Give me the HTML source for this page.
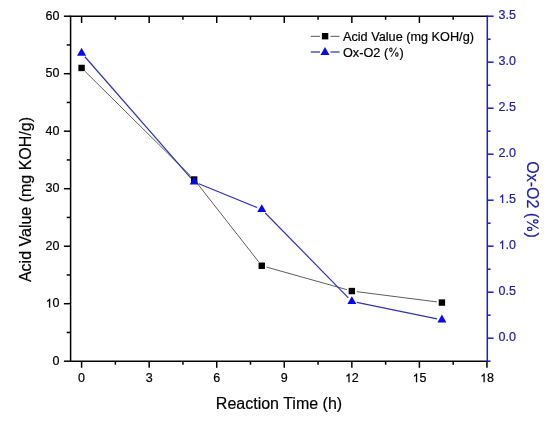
<!DOCTYPE html>
<html><head><meta charset="utf-8"><style>
html,body{margin:0;padding:0;background:#fff;}
body{width:550px;height:421px;overflow:hidden;}
svg{display:block;font-family:"Liberation Sans", sans-serif;will-change:transform;}
text{fill:#000;stroke:#000;stroke-width:0.2px;}
text.b{fill:#2020a8;stroke:#2020a8;}
</style></head><body>
<svg width="550" height="421" viewBox="0 0 550 421">
<rect width="550" height="421" fill="#fff"/>
<line x1="70.6" y1="16.2" x2="70.6" y2="361.2" stroke="#000" stroke-width="1.5"/>
<line x1="69.85" y1="16.2" x2="487.3" y2="16.2" stroke="#000" stroke-width="1.5"/>
<line x1="69.85" y1="361.2" x2="488.05" y2="361.2" stroke="#000" stroke-width="1.5"/>
<line x1="63.89999999999999" y1="361.20" x2="70.6" y2="361.20" stroke="#000" stroke-width="1.5"/>
<text x="52.45" y="364.90" font-size="12.5">0</text>
<line x1="66.69999999999999" y1="332.45" x2="70.6" y2="332.45" stroke="#000" stroke-width="1.5"/>
<line x1="63.89999999999999" y1="303.70" x2="70.6" y2="303.70" stroke="#000" stroke-width="1.5"/>
<text x="45.50" y="307.40" font-size="12.5"> 0</text>
<path d="M763 0L583 0L583 1100Q440 985 255 915L255 1085Q500 1185 630 1409L763 1409Z" transform="translate(45.50,307.40) scale(0.00610,-0.00610)" fill="#000" stroke="#000" stroke-width="32.8"/>
<line x1="66.69999999999999" y1="274.95" x2="70.6" y2="274.95" stroke="#000" stroke-width="1.5"/>
<line x1="63.89999999999999" y1="246.20" x2="70.6" y2="246.20" stroke="#000" stroke-width="1.5"/>
<text x="45.50" y="249.90" font-size="12.5">20</text>
<line x1="66.69999999999999" y1="217.45" x2="70.6" y2="217.45" stroke="#000" stroke-width="1.5"/>
<line x1="63.89999999999999" y1="188.70" x2="70.6" y2="188.70" stroke="#000" stroke-width="1.5"/>
<text x="45.50" y="192.40" font-size="12.5">30</text>
<line x1="66.69999999999999" y1="159.95" x2="70.6" y2="159.95" stroke="#000" stroke-width="1.5"/>
<line x1="63.89999999999999" y1="131.20" x2="70.6" y2="131.20" stroke="#000" stroke-width="1.5"/>
<text x="45.50" y="134.90" font-size="12.5">40</text>
<line x1="66.69999999999999" y1="102.45" x2="70.6" y2="102.45" stroke="#000" stroke-width="1.5"/>
<line x1="63.89999999999999" y1="73.70" x2="70.6" y2="73.70" stroke="#000" stroke-width="1.5"/>
<text x="45.50" y="77.40" font-size="12.5">50</text>
<line x1="66.69999999999999" y1="44.95" x2="70.6" y2="44.95" stroke="#000" stroke-width="1.5"/>
<line x1="63.89999999999999" y1="16.20" x2="70.6" y2="16.20" stroke="#000" stroke-width="1.5"/>
<text x="45.50" y="19.90" font-size="12.5">60</text>
<line x1="81.60" y1="361.2" x2="81.60" y2="367.8" stroke="#000" stroke-width="1.5"/>
<line x1="81.60" y1="16.2" x2="81.60" y2="23.0" stroke="#000" stroke-width="1.5"/>
<text x="78.12" y="382.20" font-size="12.5">0</text>
<line x1="115.38" y1="361.2" x2="115.38" y2="364.7" stroke="#000" stroke-width="1.5"/>
<line x1="115.38" y1="16.2" x2="115.38" y2="19.8" stroke="#000" stroke-width="1.5"/>
<line x1="149.16" y1="361.2" x2="149.16" y2="367.8" stroke="#000" stroke-width="1.5"/>
<line x1="149.16" y1="16.2" x2="149.16" y2="23.0" stroke="#000" stroke-width="1.5"/>
<text x="145.68" y="382.20" font-size="12.5">3</text>
<line x1="182.94" y1="361.2" x2="182.94" y2="364.7" stroke="#000" stroke-width="1.5"/>
<line x1="182.94" y1="16.2" x2="182.94" y2="19.8" stroke="#000" stroke-width="1.5"/>
<line x1="216.72" y1="361.2" x2="216.72" y2="367.8" stroke="#000" stroke-width="1.5"/>
<line x1="216.72" y1="16.2" x2="216.72" y2="23.0" stroke="#000" stroke-width="1.5"/>
<text x="213.24" y="382.20" font-size="12.5">6</text>
<line x1="250.50" y1="361.2" x2="250.50" y2="364.7" stroke="#000" stroke-width="1.5"/>
<line x1="250.50" y1="16.2" x2="250.50" y2="19.8" stroke="#000" stroke-width="1.5"/>
<line x1="284.28" y1="361.2" x2="284.28" y2="367.8" stroke="#000" stroke-width="1.5"/>
<line x1="284.28" y1="16.2" x2="284.28" y2="23.0" stroke="#000" stroke-width="1.5"/>
<text x="280.80" y="382.20" font-size="12.5">9</text>
<line x1="318.06" y1="361.2" x2="318.06" y2="364.7" stroke="#000" stroke-width="1.5"/>
<line x1="318.06" y1="16.2" x2="318.06" y2="19.8" stroke="#000" stroke-width="1.5"/>
<line x1="351.84" y1="361.2" x2="351.84" y2="367.8" stroke="#000" stroke-width="1.5"/>
<line x1="351.84" y1="16.2" x2="351.84" y2="23.0" stroke="#000" stroke-width="1.5"/>
<text x="344.89" y="382.20" font-size="12.5"> 2</text>
<path d="M763 0L583 0L583 1100Q440 985 255 915L255 1085Q500 1185 630 1409L763 1409Z" transform="translate(344.89,382.20) scale(0.00610,-0.00610)" fill="#000" stroke="#000" stroke-width="32.8"/>
<line x1="385.62" y1="361.2" x2="385.62" y2="364.7" stroke="#000" stroke-width="1.5"/>
<line x1="385.62" y1="16.2" x2="385.62" y2="19.8" stroke="#000" stroke-width="1.5"/>
<line x1="419.40" y1="361.2" x2="419.40" y2="367.8" stroke="#000" stroke-width="1.5"/>
<line x1="419.40" y1="16.2" x2="419.40" y2="23.0" stroke="#000" stroke-width="1.5"/>
<text x="412.45" y="382.20" font-size="12.5"> 5</text>
<path d="M763 0L583 0L583 1100Q440 985 255 915L255 1085Q500 1185 630 1409L763 1409Z" transform="translate(412.45,382.20) scale(0.00610,-0.00610)" fill="#000" stroke="#000" stroke-width="32.8"/>
<line x1="453.18" y1="361.2" x2="453.18" y2="364.7" stroke="#000" stroke-width="1.5"/>
<line x1="453.18" y1="16.2" x2="453.18" y2="19.8" stroke="#000" stroke-width="1.5"/>
<line x1="486.96" y1="361.2" x2="486.96" y2="367.8" stroke="#000" stroke-width="1.5"/>
<text x="480.01" y="382.20" font-size="12.5"> 8</text>
<path d="M763 0L583 0L583 1100Q440 985 255 915L255 1085Q500 1185 630 1409L763 1409Z" transform="translate(480.01,382.20) scale(0.00610,-0.00610)" fill="#000" stroke="#000" stroke-width="32.8"/>
<line x1="487.3" y1="15.45" x2="487.3" y2="361.95" stroke="#1c1cd0" stroke-width="1.5"/>
<line x1="487.3" y1="361.20" x2="490.6" y2="361.20" stroke="#1c1cd0" stroke-width="1.5"/>
<line x1="487.3" y1="338.20" x2="493.6" y2="338.20" stroke="#1c1cd0" stroke-width="1.5"/>
<text x="498.50" y="341.10" font-size="12.5" class="b">0.0</text>
<line x1="487.3" y1="315.20" x2="490.6" y2="315.20" stroke="#1c1cd0" stroke-width="1.5"/>
<line x1="487.3" y1="292.20" x2="493.6" y2="292.20" stroke="#1c1cd0" stroke-width="1.5"/>
<text x="498.50" y="295.10" font-size="12.5" class="b">0.5</text>
<line x1="487.3" y1="269.20" x2="490.6" y2="269.20" stroke="#1c1cd0" stroke-width="1.5"/>
<line x1="487.3" y1="246.20" x2="493.6" y2="246.20" stroke="#1c1cd0" stroke-width="1.5"/>
<text x="498.50" y="249.10" font-size="12.5" class="b"> .0</text>
<path d="M763 0L583 0L583 1100Q440 985 255 915L255 1085Q500 1185 630 1409L763 1409Z" transform="translate(498.50,249.10) scale(0.00610,-0.00610)" fill="#2020a8" stroke="#2020a8" stroke-width="32.8"/>
<line x1="487.3" y1="223.20" x2="490.6" y2="223.20" stroke="#1c1cd0" stroke-width="1.5"/>
<line x1="487.3" y1="200.20" x2="493.6" y2="200.20" stroke="#1c1cd0" stroke-width="1.5"/>
<text x="498.50" y="203.10" font-size="12.5" class="b"> .5</text>
<path d="M763 0L583 0L583 1100Q440 985 255 915L255 1085Q500 1185 630 1409L763 1409Z" transform="translate(498.50,203.10) scale(0.00610,-0.00610)" fill="#2020a8" stroke="#2020a8" stroke-width="32.8"/>
<line x1="487.3" y1="177.20" x2="490.6" y2="177.20" stroke="#1c1cd0" stroke-width="1.5"/>
<line x1="487.3" y1="154.20" x2="493.6" y2="154.20" stroke="#1c1cd0" stroke-width="1.5"/>
<text x="498.50" y="157.10" font-size="12.5" class="b">2.0</text>
<line x1="487.3" y1="131.20" x2="490.6" y2="131.20" stroke="#1c1cd0" stroke-width="1.5"/>
<line x1="487.3" y1="108.20" x2="493.6" y2="108.20" stroke="#1c1cd0" stroke-width="1.5"/>
<text x="498.50" y="111.10" font-size="12.5" class="b">2.5</text>
<line x1="487.3" y1="85.20" x2="490.6" y2="85.20" stroke="#1c1cd0" stroke-width="1.5"/>
<line x1="487.3" y1="62.20" x2="493.6" y2="62.20" stroke="#1c1cd0" stroke-width="1.5"/>
<text x="498.50" y="65.10" font-size="12.5" class="b">3.0</text>
<line x1="487.3" y1="39.20" x2="490.6" y2="39.20" stroke="#1c1cd0" stroke-width="1.5"/>
<line x1="487.3" y1="16.20" x2="493.6" y2="16.20" stroke="#1c1cd0" stroke-width="1.5"/>
<text x="498.50" y="19.10" font-size="12.5" class="b">3.5</text>
<line x1="85.15" y1="71.47" x2="190.65" y2="175.98" stroke="#5e5e5e" stroke-width="1.0"/>
<line x1="197.28" y1="183.44" x2="258.68" y2="261.81" stroke="#5e5e5e" stroke-width="1.0"/>
<line x1="266.57" y1="267.10" x2="347.03" y2="289.70" stroke="#5e5e5e" stroke-width="1.0"/>
<line x1="356.80" y1="291.68" x2="436.96" y2="301.92" stroke="#5e5e5e" stroke-width="1.0"/>
<line x1="84.89" y1="56.76" x2="190.91" y2="178.04" stroke="#3232b4" stroke-width="1.2"/>
<line x1="198.83" y1="183.69" x2="257.13" y2="207.51" stroke="#3232b4" stroke-width="1.2"/>
<line x1="265.26" y1="212.97" x2="348.34" y2="297.83" stroke="#3232b4" stroke-width="1.2"/>
<line x1="356.74" y1="302.40" x2="437.02" y2="318.80" stroke="#3232b4" stroke-width="1.2"/>
<rect x="78.40" y="64.75" width="6.4" height="6.4" fill="#000"/>
<rect x="191.00" y="176.30" width="6.4" height="6.4" fill="#000"/>
<rect x="258.56" y="262.55" width="6.4" height="6.4" fill="#000"/>
<rect x="348.64" y="287.85" width="6.4" height="6.4" fill="#000"/>
<rect x="438.72" y="299.35" width="6.4" height="6.4" fill="#000"/>
<polygon points="81.60,47.75 86.10,55.65 77.10,55.65" fill="#0808f0"/>
<polygon points="194.20,176.55 198.70,184.45 189.70,184.45" fill="#0808f0"/>
<polygon points="261.76,204.15 266.26,212.05 257.26,212.05" fill="#0808f0"/>
<polygon points="351.84,296.15 356.34,304.05 347.34,304.05" fill="#0808f0"/>
<polygon points="441.92,314.55 446.42,322.45 437.42,322.45" fill="#0808f0"/>
<line x1="310.8" y1="36.3" x2="320" y2="36.3" stroke="#555" stroke-width="1"/>
<line x1="330.5" y1="36.3" x2="339.5" y2="36.3" stroke="#555" stroke-width="1"/>
<rect x="321.90" y="33.00" width="6.4" height="6.4" fill="#000"/>
<line x1="310.8" y1="52" x2="320" y2="52" stroke="#3232b4" stroke-width="1.25"/>
<line x1="330.5" y1="52" x2="339.5" y2="52" stroke="#3232b4" stroke-width="1.25"/>
<polygon points="325.00,47.10 329.50,55.00 320.50,55.00" fill="#0808f0"/>
<text x="343" y="41.0" font-size="12.7">Acid Value (mg KOH/g)</text>
<text x="343" y="56.5" font-size="12.7">Ox-O2 (<tspan style="fill:none;stroke:none">%</tspan>)</text>
<g transform="translate(388.110,56.600) scale(0.00620,-0.00620)" fill="none" stroke="#000"><ellipse cx="445" cy="1115" rx="190" ry="275" stroke-width="165"/><ellipse cx="1410" cy="345" rx="190" ry="275" stroke-width="165"/><line x1="470" y1="-25" x2="1345" y2="1465" stroke-width="150"/></g>
<text x="279" y="409" text-anchor="middle" font-size="16.0">Reaction Time (h)</text>
<text transform="translate(31.2,199.5) rotate(-90)" text-anchor="middle" font-size="16.0">Acid Value (mg KOH/g)</text>
<g transform="translate(526.6,199.5) rotate(90)"><text text-anchor="middle" font-size="16.0" class="b">Ox-O2 (<tspan style="fill:none;stroke:none">%</tspan>)</text><g transform="translate(18.400,-0.400) scale(0.00781,-0.00781)" fill="none" stroke="#2020a8"><ellipse cx="445" cy="1115" rx="190" ry="275" stroke-width="165"/><ellipse cx="1410" cy="345" rx="190" ry="275" stroke-width="165"/><line x1="470" y1="-25" x2="1345" y2="1465" stroke-width="150"/></g></g>
</svg>
</body></html>
